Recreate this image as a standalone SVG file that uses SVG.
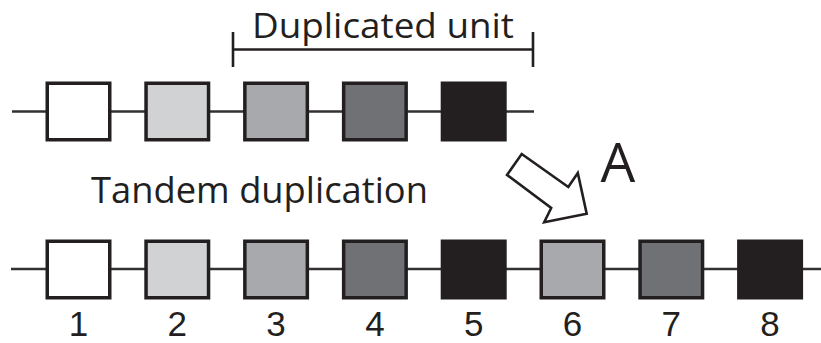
<svg xmlns="http://www.w3.org/2000/svg" width="821" height="343" viewBox="0 0 821 343">
<style>
text{font-family:"Open Sans","Liberation Sans",sans-serif;fill:#231f20}
.lbl{font-size:37px}
.top{font-size:35px}
.num{font-family:"Liberation Sans","Open Sans",sans-serif;font-size:35px;text-anchor:middle}
.box{stroke:#231f20;stroke-width:3.5}
.c1{fill:#ffffff}.c2{fill:#d1d2d4}.c3{fill:#a7a9ac}.c4{fill:#707174}.c5{fill:#231f20}
.ln{stroke:#333132;stroke-width:2.4;fill:none}
.br{stroke:#231f20;stroke-width:2.6;fill:none}
</style>
<rect width="821" height="343" fill="#ffffff"/>
<g id="connectors">
<line class="ln" x1="12" y1="111.5" x2="534" y2="111.5"/>
<line class="ln" x1="11" y1="269" x2="821" y2="269"/>
</g>
<g id="bracket">
<line class="br" x1="233" y1="32" x2="233" y2="67"/>
<line class="br" x1="533" y1="32" x2="533" y2="67"/>
<line class="br" x1="233" y1="49.5" x2="533" y2="49.5"/>
<text class="top" x="252" y="38" textLength="262" lengthAdjust="spacingAndGlyphs">Duplicated unit</text>
</g>
<g id="top-1"><rect class="box c1" x="47.25" y="83.25" width="62.5" height="56.5"/></g>
<g id="top-2"><rect class="box c2" x="146.05" y="83.25" width="62.5" height="56.5"/></g>
<g id="top-3"><rect class="box c3" x="244.85" y="83.25" width="62.5" height="56.5"/></g>
<g id="top-4"><rect class="box c4" x="343.65" y="83.25" width="62.5" height="56.5"/></g>
<g id="top-5"><rect class="box c5" x="442.45" y="83.25" width="62.5" height="56.5"/></g>
<g id="arrow-A">
<polygon points="521.7,154 568.3,187 577.8,173 586.7,213.8 544.2,222.3 551.2,208 507,175" fill="#ffffff" stroke="#231f20" stroke-width="2.6" stroke-linejoin="miter"/>
<text x="618" y="182" font-size="55" text-anchor="middle">A</text>
</g>
<g id="title">
<text class="lbl" x="91" y="203" textLength="337" lengthAdjust="spacingAndGlyphs">Tandem duplication</text>
</g>
<g id="b-1"><rect class="box c1" x="47.25" y="241.25" width="62.5" height="56.5"/><text class="num" x="78.5" y="335.5">1</text></g>
<g id="b-2"><rect class="box c2" x="146.05" y="241.25" width="62.5" height="56.5"/><text class="num" x="177.3" y="335.5">2</text></g>
<g id="b-3"><rect class="box c3" x="244.85" y="241.25" width="62.5" height="56.5"/><text class="num" x="276.1" y="335.5">3</text></g>
<g id="b-4"><rect class="box c4" x="343.65" y="241.25" width="62.5" height="56.5"/><text class="num" x="374.9" y="335.5">4</text></g>
<g id="b-5"><rect class="box c5" x="442.45" y="241.25" width="62.5" height="56.5"/><text class="num" x="473.7" y="335.5">5</text></g>
<g id="b-6"><rect class="box c3" x="541.25" y="241.25" width="62.5" height="56.5"/><text class="num" x="572.5" y="335.5">6</text></g>
<g id="b-7"><rect class="box c4" x="640.05" y="241.25" width="62.5" height="56.5"/><text class="num" x="671.3" y="335.5">7</text></g>
<g id="b-8"><rect class="box c5" x="738.85" y="241.25" width="62.5" height="56.5"/><text class="num" x="770.1" y="335.5">8</text></g>
</svg>
